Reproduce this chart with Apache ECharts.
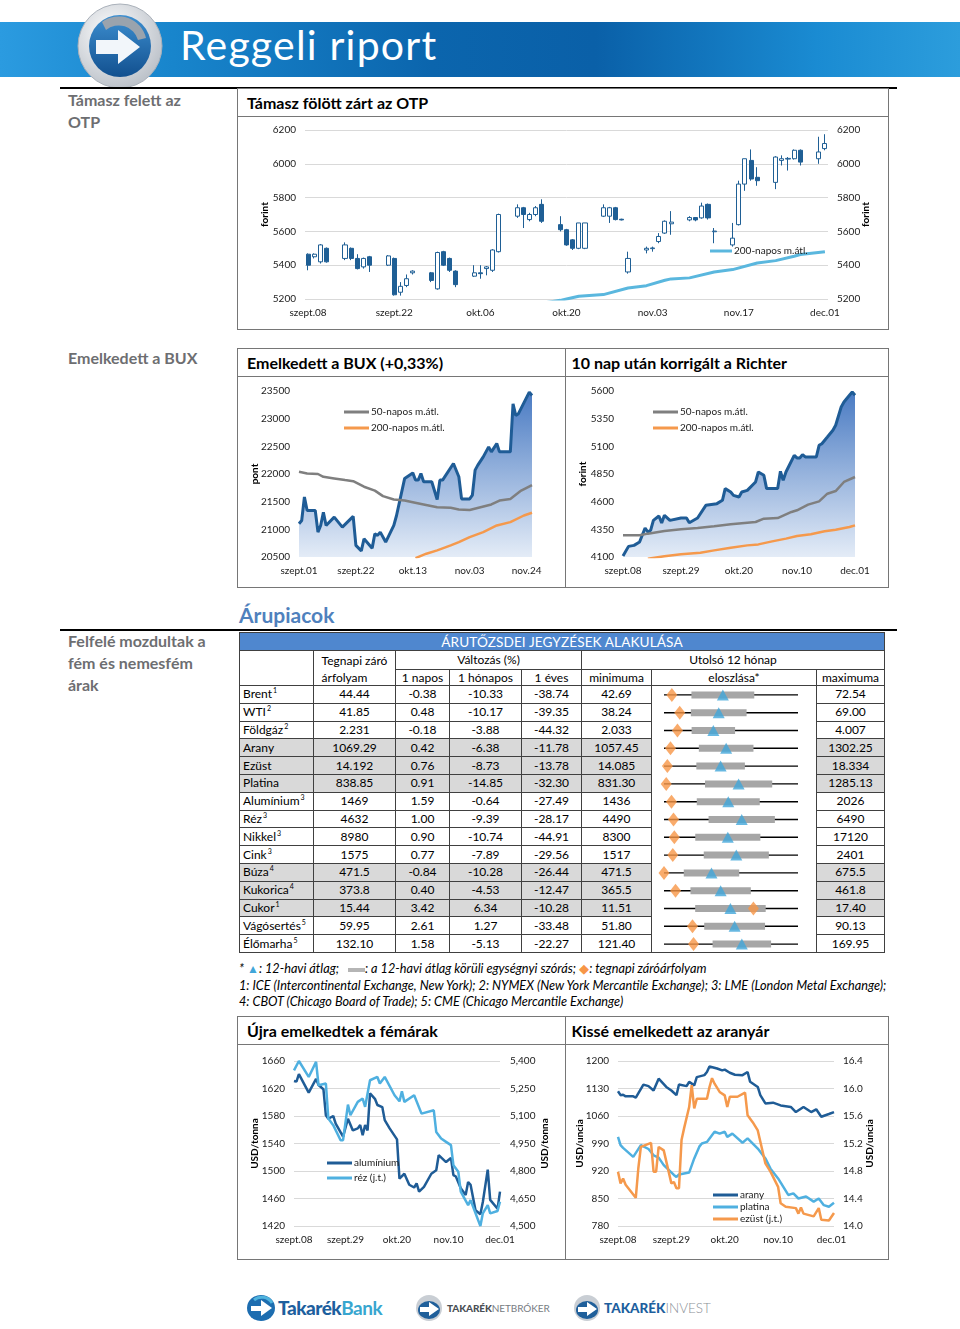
<!DOCTYPE html>
<html><head><meta charset="utf-8">
<script src="https://cdn.jsdelivr.net/npm/echarts@6/dist/echarts.min.js"></script>
<style>
body{margin:0;width:960px;height:1329px;position:relative;background:#fff;font-family:Lato,'Open Sans',sans-serif;overflow:hidden}
.abs{position:absolute}
.side{position:absolute;left:68px;color:#6d6e71;font-weight:700;font-size:16px;line-height:22px}
.box{position:absolute;border:1.5px solid #767676;box-sizing:border-box}
.ttl{position:absolute;left:9px;top:0;height:28px;line-height:28px;font-weight:700;font-size:16px;color:#000;white-space:nowrap}
.sep{position:absolute;left:0;right:0;top:27px;border-top:1.5px solid #767676}
.rule{position:absolute;left:60px;width:837px;height:2px;background:#000}
.cell{position:absolute;box-sizing:border-box;border-right:1px solid #404040;border-bottom:1px solid #404040;display:flex;align-items:center;justify-content:center;font-size:12px;color:#000;white-space:nowrap;line-height:14px}
.cell sup{font-size:7px;line-height:0;position:relative;top:-4px;margin-left:1px}
.chart{position:absolute}
.foot{position:absolute;left:239px;font-style:italic;font-size:12.7px;color:#000;white-space:nowrap}
</style></head><body>

<!-- banner -->
<div class="abs" style="left:0;top:22px;width:960px;height:55px;background:linear-gradient(90deg,#2b9be0 0%,#1885cc 18%,#0b65ad 45%,#0a60a8 62%,#1a8bd2 85%,#2c9ddc 100%)"></div>
<svg class="abs" style="left:76px;top:2px" width="88" height="88" viewBox="0 0 88 88">
<defs><radialGradient id="rg" cx="40%" cy="35%" r="70%"><stop offset="0" stop-color="#ffffff"/><stop offset="1" stop-color="#b9bfc7"/></radialGradient>
<linearGradient id="bg" x1="0" y1="0" x2="0" y2="1"><stop offset="0" stop-color="#3d8fd0"/><stop offset="1" stop-color="#12508f"/></linearGradient></defs>
<circle cx="44" cy="44" r="42" fill="url(#rg)" stroke="#aab1ba" stroke-width="1"/>
<circle cx="44" cy="44" r="31" fill="url(#bg)"/>
<path d="M26 20 A28 28 0 0 1 70 36 L62 38 A20 20 0 0 0 30 28 Z" fill="#9aa3ad"/>
<path d="M20 38 H42 V28 L64 45 L42 62 V52 H20 Z" fill="#f2f6fa"/>
</svg>
<div class="abs" style="left:180px;top:20px;font-size:41px;color:#fff;line-height:50px;letter-spacing:1.2px">Reggeli riport</div>

<div class="rule" style="top:87px"></div>
<div class="side" style="top:89px">Támasz felett az<br>OTP</div>
<div class="box" style="left:237px;top:88px;width:652px;height:242px"><div class="ttl">Támasz fölött zárt az OTP</div><div class="sep"></div></div>

<div class="side" style="top:347px">Emelkedett a BUX</div>
<div class="box" style="left:237px;top:348px;width:329px;height:240px"><div class="ttl">Emelkedett a BUX (+0,33%)</div><div class="sep"></div></div>
<div class="box" style="left:564.5px;top:348px;width:324.5px;height:240px"><div class="ttl" style="left:6px">10 nap után korrigált a Richter</div><div class="sep"></div></div>

<div class="abs" style="left:239px;top:602px;font-size:21px;font-weight:700;color:#4f81bd;line-height:26px">Árupiacok</div>
<div class="rule" style="top:629px"></div>
<div class="side" style="top:630px">Felfelé mozdultak a<br>fém és nemesfém<br>árak</div>

<div id="table"></div>

<div class="foot" style="top:960px">* <span style="color:#41a6d9;font-style:normal;font-size:12px">▲</span>: 12-havi átlag;&nbsp;&nbsp;&nbsp;<span style="display:inline-block;width:17px;height:4px;background:#b5b5b5;vertical-align:middle"></span>: a 12-havi átlag körüli egységnyi szórás; <span style="color:#f79646;font-style:normal">◆</span>: tegnapi záróárfolyam</div>
<div class="foot" style="top:977px">1: ICE (Intercontinental Exchange, New York); 2: NYMEX (New York Mercantile Exchange); 3: LME (London Metal Exchange);</div>
<div class="foot" style="top:993px">4: CBOT (Chicago Board of Trade); 5: CME (Chicago Mercantile Exchange)</div>

<div class="box" style="left:237px;top:1016px;width:329px;height:244px"><div class="ttl">Újra emelkedtek a fémárak</div><div class="sep"></div></div>
<div class="box" style="left:564.5px;top:1016px;width:324.5px;height:244px"><div class="ttl" style="left:6px">Kissé emelkedett az aranyár</div><div class="sep"></div></div>

<!-- charts -->
<div id="cOtp" class="chart" style="left:238px;top:118px;width:650px;height:211px"></div>
<div id="cBux" class="chart" style="left:238px;top:377px;width:326px;height:210px"></div>
<div id="cRic" class="chart" style="left:566px;top:377px;width:322px;height:210px"></div>
<div id="cMet" class="chart" style="left:238px;top:1045px;width:326px;height:214px"></div>
<div id="cGold" class="chart" style="left:566px;top:1045px;width:322px;height:214px"></div>

<!-- footer logos -->
<svg class="abs" style="left:246px;top:1294px" width="30" height="28" viewBox="0 0 30 28"><ellipse cx="15" cy="14" rx="14" ry="13" fill="#1d6db0"/><path d="M5 12 H15 V6 L26 14 L15 22 V17 H5 Z" fill="#fff"/><path d="M8 6 A12 12 0 0 1 26 9" stroke="#4fb3dd" stroke-width="3" fill="none"/></svg>
<div class="abs" style="left:278px;top:1297px;font-size:19px;font-weight:900;line-height:22px;letter-spacing:-0.5px"><span style="color:#1d5f9e">Takarék</span><span style="color:#38a6cf;font-weight:700">Bank</span></div>
<svg class="abs" style="left:414px;top:1294px" width="30" height="28" viewBox="0 0 30 28"><circle cx="15" cy="14" r="13" fill="#c9ced4"/><ellipse cx="15" cy="16" rx="11" ry="9" fill="#1f5f9a"/><path d="M6 13 H15 V8 L25 15 L15 22 V18 H6 Z" fill="#fff"/></svg>
<div class="abs" style="left:447px;top:1302px;font-size:10px;line-height:12px;white-space:nowrap;letter-spacing:-0.1px"><span style="color:#4a4f55;font-weight:900">TAKARÉK</span><span style="color:#777c82">NETBRÓKER</span></div>
<svg class="abs" style="left:572px;top:1294px" width="30" height="28" viewBox="0 0 30 28"><circle cx="15" cy="14" r="13" fill="#c9ced4"/><ellipse cx="15" cy="16" rx="11" ry="9" fill="#1f5f9a"/><path d="M6 13 H15 V8 L25 15 L15 22 V18 H6 Z" fill="#fff"/></svg>
<div class="abs" style="left:604px;top:1299px;font-size:13.5px;line-height:18px;white-space:nowrap"><span style="color:#1d5f9e;font-weight:900">TAKARÉK</span><span style="color:#8c9197;font-weight:300">INVEST</span></div>

<script>
// ---------------- DATA ----------------
// OTP candlesticks (day offset from 2015-09-08)
const otpDay   = [0,1,2,3,6,7,8,9,10,13,14,15,16,17,20,21,22,23,24,27,28,29,30,31,34,35,36,37,38,41,42,43,44,45,48,49,50,51,52,55,56,57,58,59,62,63,64,65,66,69,70,71,72,73,76,77,78,79,80,83,84];
const otpOpen  = [5465,5450,5420,5500,5440,5500,5440,5390,5450,5400,5440,5240,5280,5355,5355,5260,5480,5440,5365,5335,5355,5380,5370,5480,5690,5740,5670,5700,5760,5640,5610,5550,5500,5500,5690,5690,5740,5672,5360,5490,5498,5540,5590,5645,5668,5682,5680,5760,5598,5520,5640,5880,6020,5920,5890,6020,6028,6030,6080,6030,6090];
const otpClose = [5400,5465,5520,5420,5520,5440,5380,5440,5400,5455,5225,5275,5320,5365,5310,5475,5400,5370,5285,5355,5350,5390,5490,5700,5740,5700,5700,5740,5660,5610,5520,5500,5650,5650,5740,5740,5670,5668,5440,5500,5502,5570,5660,5655,5682,5668,5750,5680,5602,5560,5880,6030,5910,5900,6040,6030,6032,6080,6010,6070,6120];
const otpLow   = [5370,5440,5410,5415,5430,5430,5375,5380,5360,5395,5220,5220,5270,5345,5300,5255,5395,5360,5270,5330,5320,5340,5360,5475,5680,5620,5660,5690,5650,5600,5515,5490,5495,5495,5685,5650,5665,5665,5350,5470,5480,5530,5585,5580,5660,5660,5675,5670,5530,5510,5635,5840,5900,5870,5850,5990,5960,6025,5990,6000,6080];
const otpHigh  = [5470,5470,5525,5505,5535,5505,5465,5445,5455,5460,5445,5300,5345,5370,5360,5480,5485,5445,5370,5400,5400,5395,5495,5705,5760,5745,5710,5750,5790,5690,5615,5555,5650,5650,5760,5745,5745,5675,5480,5510,5510,5590,5665,5720,5690,5685,5770,5765,5620,5650,5900,6030,6085,5980,6045,6050,6040,6085,6085,6160,6175];
const otpMaDay = [38,41,42,44,48,52,55,58,59,62,66,69,73,76,79,80,84];
const otpMaVal = [5175,5192,5200,5216,5226,5265,5279,5311,5319,5325,5360,5374,5413,5427,5453,5463,5479];

// BUX (day offset from 2015-09-01)
const buxDay = [0,1,2,3,6,7,8,9,10,13,16,20,21,23,24,27,28,29,30,32,35,36,39,42,43,44,45,46,49,51,52,53,57,59,60,63,64,65,66,68,70,71,73,74,78,79,80,81,85,86];
const buxVal = [21100,21160,21585,21340,21340,20950,21070,21310,21070,21220,21040,21235,20710,20610,20830,20660,20920,20890,20950,20770,21070,21250,21920,22020,21890,21890,22010,21860,21860,21540,21890,21890,22190,21950,21550,21550,21620,22070,22160,22310,22490,22400,22550,22400,22400,23270,23060,23090,23480,23420];
const bux50Day = [0,3,7,9,13,17,20,24,28,31,35,39,42,46,51,56,59,63,67,71,74,78,82,86];
const bux50Val = [22040,22010,22000,21950,21920,21890,21870,21770,21700,21600,21540,21520,21490,21450,21400,21390,21360,21350,21400,21450,21520,21550,21700,21800];
const bux200Day = [43,47,51,56,59,63,68,73,78,83,86];
const bux200Val = [20480,20560,20620,20710,20770,20860,20950,21070,21130,21250,21300];

// Richter (day offset from 2015-09-08)
const ricDay = [0,2,4,6,8,9,10,11,13,14,15,17,21,23,24,27,30,34,36,37,39,40,42,43,45,48,49,51,52,56,57,58,59,62,63,64,65,66,70,71,72,74,76,77,79,80,82,83,84];
const ricVal = [4109,4196,4205,4235,4362,4326,4341,4431,4470,4407,4477,4431,4452,4452,4410,4452,4567,4582,4612,4718,4687,4657,4642,4687,4702,4778,4868,4838,4718,4718,4874,4793,4868,5019,4995,4995,5025,5004,5004,5109,5124,5184,5245,5290,5455,5500,5561,5591,5561];
const ric50Day = [0,6,9,15,21,27,33,39,45,48,51,56,61,63,67,71,74,77,80,84];
const ric50Val = [4296,4296,4311,4335,4350,4362,4377,4395,4410,4416,4446,4452,4507,4522,4573,4603,4672,4696,4778,4823];
const ric200Day = [9,15,21,28,33,39,45,49,54,59,63,68,73,77,82,84];
const ric200Val = [4085,4106,4124,4139,4160,4184,4205,4214,4241,4266,4290,4305,4332,4347,4371,4386];

// Aluminium (left) & copper (right), day offset from 2015-09-08
const alDay = [0,1,2,6,9,10,12,13,14,16,17,20,22,24,26,27,28,29,30,31,33,34,36,37,39,42,43,45,47,49,50,51,53,56,58,59,62,64,65,66,68,70,71,72,74,76,77,79,80,83,84];
const alVal = [1631,1630,1641,1614,1634,1625,1619,1581,1576,1580,1569,1550,1576,1559,1562,1567,1552,1567,1559,1613,1605,1596,1593,1574,1562,1546,1489,1496,1480,1476,1482,1470,1477,1496,1501,1523,1513,1519,1494,1492,1475,1465,1484,1480,1443,1437,1455,1502,1458,1445,1470];
const cuDay = [0,2,6,9,10,13,14,16,19,20,22,23,26,28,29,31,34,35,37,41,43,44,45,49,52,57,58,60,62,64,65,67,68,71,72,76,77,79,80,83,84];
const cuVal = [5349,5400,5313,5395,5268,5277,5086,5050,4968,4968,5162,5104,5177,5195,5150,5295,5313,5277,5313,5213,5180,5235,5177,5213,5113,5131,5013,4977,4959,4941,4832,4796,4687,4614,4641,4500,4569,4614,4569,4582,4632];

// Gold, platinum (left) & silver (right), day offset from 2015-09-08
const auDay = [0,1,2,3,6,7,10,12,14,16,19,21,23,24,27,28,30,31,34,35,36,39,41,42,44,46,49,51,52,55,56,58,61,64,68,70,73,76,78,80,83,85];
const auVal = [1123,1113,1114,1110,1110,1107,1140,1136,1125,1155,1134,1125,1113,1140,1136,1147,1138,1159,1164,1172,1186,1181,1176,1178,1170,1165,1164,1172,1147,1134,1113,1092,1094,1087,1083,1070,1083,1070,1077,1058,1065,1070];
const ptDay = [0,1,2,6,9,12,14,16,18,22,23,24,28,30,32,33,35,38,40,42,43,45,49,51,55,58,60,63,65,67,69,71,74,77,79,81,83,85];
const ptVal = [1007,986,979,956,986,976,960,954,935,910,905,911,916,952,982,990,994,1020,1015,1020,1007,1015,992,1003,977,952,926,901,880,859,863,850,855,842,850,833,829,839];
const agDay = [0,1,2,3,7,8,9,13,14,15,16,18,21,22,23,24,25,26,28,29,30,31,35,36,37,38,40,42,43,44,47,50,51,53,55,58,60,63,64,66,70,71,72,73,77,79,80,83,85];
const agVal = [14.79,14.62,14.69,14.60,14.41,14.84,15.15,15.21,14.79,14.79,15.15,15.10,14.62,14.64,14.55,14.55,15.25,15.42,15.73,16.05,15.71,15.85,15.85,16.02,16.15,16.07,15.95,15.90,15.73,15.88,15.88,15.94,15.61,15.51,15.39,14.91,14.79,14.57,14.33,14.28,14.26,14.18,14.27,14.18,14.14,14.26,14.09,14.08,14.19];

// Commodity table
const tNames = ['Brent','WTI','Földgáz','Arany','Ezüst','Platina','Alumínium','Réz','Nikkel','Cink','Búza','Kukorica','Cukor','Vágósertés','Élőmarha'];
const tSup   = ['1','2','2','','','','3','3','3','3','4','4','1','5','5'];
const tClose = ['44.44','41.85','2.231','1069.29','14.192','838.85','1469','4632','8980','1575','471.5','373.8','15.44','59.95','132.10'];
const tD1    = ['-0.38','0.48','-0.18','0.42','0.76','0.91','1.59','1.00','0.90','0.77','-0.84','0.40','3.42','2.61','1.58'];
const tM1    = ['-10.33','-10.17','-3.88','-6.38','-8.73','-14.85','-0.64','-9.39','-10.74','-7.89','-10.28','-4.53','6.34','1.27','-5.13'];
const tY1    = ['-38.74','-39.35','-44.32','-11.78','-13.78','-32.30','-27.49','-28.17','-44.91','-29.56','-26.44','-12.47','-10.28','-33.48','-22.27'];
const tMin   = ['42.69','38.24','2.033','1057.45','14.085','831.30','1436','4490','8300','1517','471.5','365.5','11.51','51.80','121.40'];
const tMax   = ['72.54','69.00','4.007','1302.25','18.334','1285.13','2026','6490','17120','2401','675.5','461.8','17.40','90.13','169.95'];
const tMean  = [55.8,50.8,2.76,1171,15.88,1084,1719,5650,12500,1994,543.8,406.2,14.43,72.0,149.6];
const tStd   = [7.0,6.4,0.32,49.9,0.77,113.8,138.7,495,2143,214.8,42.2,21.7,1.55,8.7,10.6];
const tGray  = [false,false,false,true,true,true,false,false,false,false,true,true,true,false,false];

// ---------------- HELPERS ----------------
const HU_M = ['jan.','febr.','márc.','ápr.','máj.','jún.','júl.','aug.','szept.','okt.','nov.','dec.'];
function dayLbl(m, d, off) { const t = new Date(Date.UTC(2015, m - 1, d + off)); return HU_M[t.getUTCMonth()] + String(t.getUTCDate()).padStart(2, '0'); }
const FONT = 'Lato';
const TXT = {fontFamily: FONT, fontSize: 10, color: '#1a1a1a'};
const DARK = '#1f5c96', LIGHT = '#4fb0e0', ORANGE = '#f5994c', GRAY = '#7f7f7f';
const pairs = (d, v) => d.map((x, i) => [x, v[i]]);
const plain = v => String(v);
const G = (l, r, t, b) => ({left: l, right: r, top: t, bottom: b, outerBoundsMode: 'none'});

function xDays(m, d, max) {
  return {type: 'value', min: 0, max: max, interval: 21, axisLine: {show: false}, axisTick: {show: false}, splitLine: {show: false},
    axisLabel: Object.assign({}, TXT, {margin: 9, showMaxLabel: max % 21 === 0, formatter: v => dayLbl(m, d, v)})};
}
function yAx(min, max, iv, opts) {
  return Object.assign({type: 'value', min: min, max: max, interval: iv, axisLine: {show: false}, axisTick: {show: false},
    splitLine: {show: false}, axisLabel: Object.assign({}, TXT, {margin: 9, formatter: plain}),
    nameLocation: 'middle', nameRotate: 90, nameMoveOverlap: false,
    nameTextStyle: {fontFamily: FONT, fontSize: 10, fontWeight: 'bold', color: '#000'}}, opts || {});
}
function ln(name, data, color, w, yi, extra) {
  return Object.assign({name: name, type: 'line', data: data, symbol: 'none', yAxisIndex: yi || 0, lineStyle: {color: color, width: w}, itemStyle: {color: color}, clip: true, animation: false}, extra || {});
}
function leg(names, left, top, gap) {
  return {data: names, orient: 'vertical', left: left, top: top, icon: 'rect', itemWidth: 25, itemHeight: 3, itemGap: gap, textStyle: Object.assign({}, TXT, {padding: [0, 0, 0, -3]})};
}
const areaGrad = () => new echarts.graphic.LinearGradient(0, 0, 0, 1, [{offset: 0, color: '#4a7bc3'}, {offset: 1, color: '#e4ecf7'}]);

// ---------------- OTP ----------------
(function () {
  const cats = []; for (let i = 0; i <= 84; i++) cats.push(dayLbl(9, 8, i));
  const cd = cats.map(() => ['-', '-', '-', '-']);
  otpDay.forEach((d, i) => { cd[d] = [otpOpen[i], otpClose[i], otpLow[i], otpHigh[i]]; });
  const ma = cats.map(() => null);
  otpMaDay.forEach((d, i) => { ma[d] = otpMaVal[i]; });
  const ch = echarts.init(document.getElementById('cOtp'));
  ch.setOption({
    animation: false,
    grid: G(67, 60, 12, 30),
    legend: {data: ['200-napos m.átl.'], left: 467, top: 123, icon: 'rect', itemWidth: 22, itemHeight: 3, textStyle: Object.assign({}, TXT, {padding: [0, 0, 0, -3]})},
    xAxis: {type: 'category', data: cats, boundaryGap: true, axisLine: {show: false}, axisTick: {show: false},
      axisLabel: Object.assign({}, TXT, {margin: 9, interval: (i) => i % 14 === 0})},
    yAxis: [yAx(5200, 6200, 200, {name: 'forint', nameGap: 35, splitLine: {show: true, lineStyle: {color: '#d9d9d9'}}}),
            yAx(5200, 6200, 200, {name: 'forint', nameGap: 33, position: 'right'})],
    series: [
      {type: 'candlestick', data: cd, barWidth: 4.6, itemStyle: {color: '#ffffff', color0: '#1f5f95', borderColor: '#1f5f95', borderColor0: '#1f5f95', borderWidth: 1}},
      ln('200-napos m.átl.', ma, '#5ab7de', 3, 0, {connectNulls: true})
    ]
  });
})();

// ---------------- BUX ----------------
echarts.init(document.getElementById('cBux')).setOption({
  animation: false,
  grid: G(61, 32, 14, 30),
  legend: leg(['50-napos m.átl.', '200-napos m.átl.'], 101, 25, 6),
  xAxis: xDays(9, 1, 86),
  yAxis: yAx(20500, 23500, 500, {name: 'pont', nameGap: 39}),
  series: [
    ln('BUX', pairs(buxDay, buxVal), DARK, 3, 0, {areaStyle: {color: areaGrad(), opacity: 1, origin: 'start'}}),
    ln('50-napos m.átl.', pairs(bux50Day, bux50Val), GRAY, 2.5),
    ln('200-napos m.átl.', pairs(bux200Day, bux200Val), ORANGE, 2.5)
  ]
});

// ---------------- Richter ----------------
echarts.init(document.getElementById('cRic')).setOption({
  animation: false,
  grid: G(57, 33, 14, 30),
  legend: leg(['50-napos m.átl.', '200-napos m.átl.'], 82, 25, 6),
  xAxis: xDays(9, 8, 84),
  yAxis: yAx(4100, 5600, 250, {name: 'forint', nameGap: 35}),
  series: [
    ln('Richter', pairs(ricDay, ricVal), DARK, 3, 0, {areaStyle: {color: areaGrad(), opacity: 1, origin: 'start'}}),
    ln('50-napos m.átl.', pairs(ric50Day, ric50Val), GRAY, 2.5),
    ln('200-napos m.átl.', pairs(ric200Day, ric200Val), ORANGE, 2.5)
  ]
});

// ---------------- Metals ----------------
echarts.init(document.getElementById('cMet')).setOption({
  animation: false,
  grid: G(56, 64, 16, 33),
  legend: leg(['alumínium', 'réz (j.t.)'], 84, 108, 5),
  xAxis: xDays(9, 8, 84),
  yAxis: [yAx(1420, 1660, 40, {name: 'USD/tonna', nameGap: 34, splitLine: {show: true, lineStyle: {color: '#d9d9d9'}}}),
          yAx(4500, 5400, 150, {name: 'USD/tonna', nameGap: 40, position: 'right', axisLabel: Object.assign({}, TXT, {margin: 10, formatter: v => v.toLocaleString('en-US')})})],
  series: [
    ln('alumínium', pairs(alDay, alVal), DARK, 2.5, 0),
    ln('réz (j.t.)', pairs(cuDay, cuVal), LIGHT, 2.5, 1)
  ]
});

// ---------------- Gold ----------------
echarts.init(document.getElementById('cGold')).setOption({
  animation: false,
  grid: G(52, 54, 16, 33),
  legend: leg(['arany', 'platina', 'ezüst (j.t.)'], 142, 140, 2),
  xAxis: xDays(9, 8, 85),
  yAxis: [yAx(780, 1200, 70, {name: 'USD/uncia', nameGap: 33, splitLine: {show: true, lineStyle: {color: '#d9d9d9'}}}),
          yAx(14.0, 16.4, 0.4, {name: 'USD/uncia', nameGap: 31, position: 'right', axisLabel: Object.assign({}, TXT, {margin: 9, formatter: v => v.toFixed(1)})})],
  series: [
    ln('arany', pairs(auDay, auVal), DARK, 2.5, 0),
    ln('platina', pairs(ptDay, ptVal), LIGHT, 2.5, 0),
    ln('ezüst (j.t.)', pairs(agDay, agVal), ORANGE, 2.5, 1)
  ]
});

// ---------------- TABLE ----------------
(function () {
  const X = [240, 314, 396, 450, 522, 582, 652, 817, 885];
  const Y0 = 686, RH = 17.8;
  const host = document.getElementById('table');
  let html = '';
  function cell(x0, x1, y0, y1, txt, st) {
    html += '<div class="cell" style="left:' + x0 + 'px;top:' + y0 + 'px;width:' + (x1 - x0) + 'px;height:' + (y1 - y0) + 'px;' + (st || '') + '">' + txt + '</div>';
  }
  html += '<div class="abs" style="left:' + (X[0] - 1) + 'px;top:633px;width:1px;height:' + (Y0 + 15 * RH - 633) + 'px;background:#404040"></div>';
  html += '<div class="abs" style="left:' + (X[0] - 1) + 'px;top:632px;width:' + (X[8] - X[0] + 1) + 'px;height:1px;background:#404040"></div>';
  cell(X[0], X[8], 633, 651, 'ÁRUTŐZSDEI JEGYZÉSEK ALAKULÁSA', 'background:#4f87cf;color:#fff;font-size:13.6px;letter-spacing:0.1px');
  cell(X[0], X[1], 651, Y0, '');
  cell(X[1], X[2], 651, Y0, 'Tegnapi záró<br>árfolyam', 'flex-direction:column;line-height:17px;padding-top:1px');
  cell(X[2], X[5], 651, 670, 'Változás (%)');
  cell(X[5], X[8], 651, 670, 'Utolsó 12 hónap');
  const sub = ['1 napos', '1 hónapos', '1 éves', 'minimuma', 'eloszlása*', 'maximuma'];
  for (let c = 0; c < 6; c++) cell(X[c + 2], X[c + 3], 670, Y0, sub[c]);
  for (let r = 0; r < tNames.length; r++) {
    const y0 = +(Y0 + r * RH).toFixed(1), y1 = +(Y0 + (r + 1) * RH).toFixed(1);
    const bg = tGray[r] ? 'background:#d9d9d9;' : '';
    cell(X[0], X[1], y0, y1, tNames[r] + (tSup[r] ? '<sup>' + tSup[r] + '</sup>' : ''), bg + 'justify-content:flex-start;padding-left:3px');
    const vals = [tClose[r], tD1[r], tM1[r], tY1[r], tMin[r]];
    for (let c = 0; c < 5; c++) cell(X[c + 1], X[c + 2], y0, y1, vals[c], bg);
    cell(X[7], X[8], y0, y1, tMax[r], bg);
  }
  cell(X[6], X[7], Y0, +(Y0 + 15 * RH).toFixed(1), '');
  html += '<div id="cDist" class="chart" style="left:' + X[6] + 'px;top:' + Y0 + 'px;width:' + (X[7] - X[6] - 1) + 'px;height:' + (15 * RH) + 'px"></div>';
  host.innerHTML = html;

  const norm = (v, i) => (v - Number(tMin[i])) / (Number(tMax[i]) - Number(tMin[i]));
  const lineData = tNames.map((n, i) => [0, i, 1]);
  const barData = tNames.map((n, i) => [norm(tMean[i] - tStd[i], i), i, norm(tMean[i] + tStd[i], i)]);
  const triData = tNames.map((n, i) => [norm(tMean[i], i), i]);
  const diaData = tNames.map((n, i) => [norm(Number(tClose[i]), i), i]);
  const seg = (h, style) => (params, api) => {
    const a = api.coord([api.value(0), api.value(1)]);
    const b = api.coord([api.value(2), api.value(1)]);
    if (h === 0) return {type: 'line', shape: {x1: a[0], y1: a[1], x2: b[0], y2: b[1]}, style: style};
    return {type: 'rect', shape: {x: a[0], y: a[1] - h / 2, width: b[0] - a[0], height: h}, style: style};
  };
  echarts.init(document.getElementById('cDist')).setOption({
    animation: false,
    grid: G(12, 18, 0, 0),
    xAxis: {type: 'value', min: 0, max: 1, show: false},
    yAxis: {type: 'category', data: tNames, inverse: true, show: false},
    series: [
      {type: 'custom', data: lineData, encode: {x: [0, 2], y: 1}, renderItem: seg(0, {stroke: '#000', lineWidth: 1.4}), z: 1},
      {type: 'custom', data: barData, encode: {x: [0, 2], y: 1}, renderItem: seg(7, {fill: '#a6a6a6'}), z: 2},
      {type: 'scatter', data: triData, symbol: 'triangle', symbolSize: [12, 11], itemStyle: {color: '#41a6d9'}, z: 3},
      {type: 'scatter', data: diaData, symbol: 'diamond', symbolSize: [11, 14], itemStyle: {color: '#f79646'}, z: 4}
    ]
  });
})();
</script>
</body></html>
